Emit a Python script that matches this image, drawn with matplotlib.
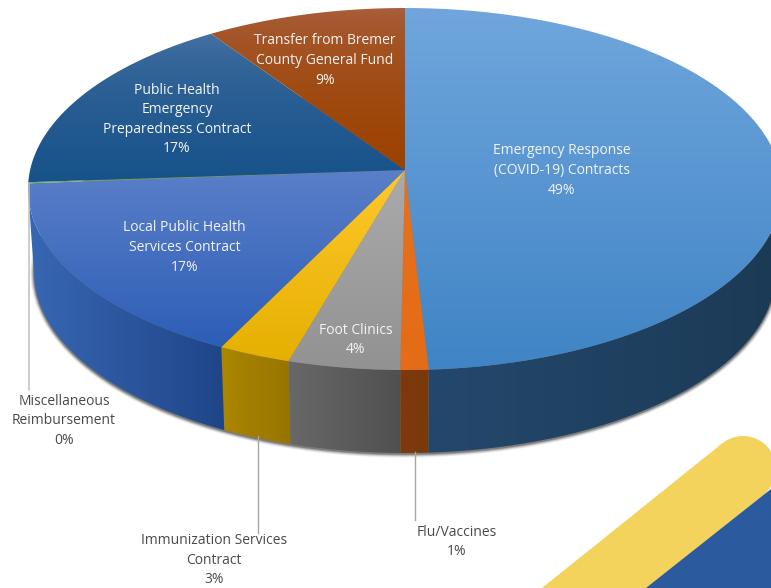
import numpy as np
import matplotlib
matplotlib.use("Agg")
import matplotlib.pyplot as plt
from matplotlib.colors import LinearSegmentedColormap
from matplotlib.patches import PathPatch, Ellipse, Polygon
from matplotlib.path import Path

categories = ["Emergency Response\n(COVID-19) Contracts", "Flu/Vaccines", "Foot Clinics",
              "Immunization Services\nContract", "Local Public Health\nServices Contract",
              "Miscellaneous\nReimbursement", "Public Health\nEmergency\nPreparedness Contract",
              "Transfer from Bremer\nCounty General Fund"]
drawn_shares = [49.0, 1.2, 4.8, 3.1, 17.4, 0.1, 15.8, 8.6]
percent_labels = ["49%", "1%", "4%", "3%", "17%", "0%", "17%", "9%"]
top_colors = [("#70A6DD", "#3F84C5"), ("#E8711E", "#E46C16"), ("#ABABAB", "#929292"),
              ("#FFC82E", "#E5B000"), ("#5B7FC9", "#2C5EB6"), ("#70AD47", "#70AD47"),
              ("#4A74A4", "#17528A"), ("#AA6243", "#9C4200")]
top_gamma = [1, 1, 1, 1, 1, 1, 0.55, 0.5]
side_colors = [("#24486D", "#1B3A55"), ("#7D3B0D", "#7A390B"), ("#686868", "#505050"),
               ("#AB8700", "#977400"), ("#3867B3", "#1F4588"), ("#555555", "#555555"),
               ("#15406A", "#15406A"), ("#7A3400", "#7A3400")]
label_xy = [(562, 170.5), (456.5, 542), (356, 340), (214, 560), (184.5, 247.5), (64, 421), (177, 119.5), (325, 60.5)]
label_white = [True, False, True, False, True, False, True, True]

W, H = 771, 588
cx, cy, rx, ry = 405, 189, 377, 181          # top rim
bcx, bcy, brx, bry = 405, 272, 371, 181      # bottom rim
apex = (405, 170)

plt.rcParams["font.family"] = ["Open Sans", "DejaVu Sans"]
fig = plt.figure(figsize=(W / 100, H / 100), dpi=100, facecolor="white")
ax = fig.add_axes([0, 0, 1, 1])
ax.axis("off")


def rim(t, x0, y0, a, b):
    return np.column_stack([x0 + a * np.sin(t), y0 - b * np.cos(t)])


def gradient_fill(pts, c0, c1, vertical=True, z=2, gamma=1):
    pts = np.asarray(pts)
    cmap = LinearSegmentedColormap.from_list("g", [c0, c1])
    g = np.linspace(0, 1, 256) ** gamma
    g = g.reshape(-1, 1) if vertical else g.reshape(1, -1)
    x0, x1, y0, y1 = pts[:, 0].min(), pts[:, 0].max(), pts[:, 1].min(), pts[:, 1].max()
    im = ax.imshow(g, cmap=cmap, extent=[x0, x1, y1, y0], origin="upper", aspect="auto",
                   zorder=z, interpolation="bilinear", vmin=0, vmax=1)
    clip = PathPatch(Path(np.vstack([pts, pts[:1]])), transform=ax.transData, fc="none", ec="none")
    ax.add_patch(clip)
    im.set_clip_path(clip)
    return im


# decoration lower right: rounded yellow band and blue corner
band_end = np.array([743.0, 469.0])
band_dir = np.array([0.78, -0.626])
band_nrm = np.array([0.626, 0.78]) * 33
band_start = band_end - band_dir * 300
ax.add_patch(Polygon([band_start - band_nrm, band_end - band_nrm, band_end + band_nrm, band_start + band_nrm],
                     closed=True, fc="#F4D35C", ec="none", zorder=1))
ax.add_patch(Ellipse(tuple(band_end), 66, 66, fc="#F4D35C", ec="none", zorder=1))
ax.add_patch(Polygon([(646, 588), (771, 489), (771, 588)], closed=True, fc="#2C5A9E", ec="none", zorder=1.5))

# soft shadow under the pie
for k, a in zip([3.5, 2.5, 1.5, 0.7], [0.10, 0.18, 0.28, 0.4]):
    ax.add_patch(Ellipse((bcx, bcy + 1), 2 * (brx + k), 2 * (bry + k), fc="#404040", ec="none", alpha=a, zorder=1.8))

bounds = np.radians(np.cumsum([0] + drawn_shares) / sum(drawn_shares) * 360)

# side wall
for i, share in enumerate(drawn_shares):
    t0, t1 = max(bounds[i], np.pi / 2), min(bounds[i + 1], 1.5 * np.pi)
    if t1 <= t0:
        continue
    t = np.linspace(t0, t1, 120)
    pts = np.vstack([rim(t, cx, cy, rx, ry), rim(t[::-1], bcx, bcy, brx, bry)])
    gradient_fill(pts, *side_colors[i], vertical=False, z=2)

# top surface
for i, share in enumerate(drawn_shares):
    t = np.linspace(bounds[i], bounds[i + 1], max(int(share * 8), 8))
    pts = np.vstack([[apex], rim(t, cx, cy, rx, ry)])
    gradient_fill(pts, *top_colors[i], z=3, gamma=top_gamma[i])

# leader lines
ax.plot([29, 29], [184, 390], color="#BFBFBF", lw=1.1, zorder=4)
ax.plot([257.5, 257.5], [436, 533], color="#A6A6A6", lw=1.0, zorder=4)
ax.plot([415, 415], [452, 520], color="#A6A6A6", lw=1.0, zorder=4)

# labels
for name, pct, (x, y), white in zip(categories, percent_labels, label_xy, label_white):
    ax.text(x, y, name + "\n" + pct, ha="center", va="center", multialignment="center",
            fontsize=10.0, linespacing=1.42, color="#F4F4F4" if white else "#4A4A4A", zorder=5)

ax.set_xlim(0, W)
ax.set_ylim(H, 0)
fig.savefig("out.png", dpi=100, facecolor="white")
